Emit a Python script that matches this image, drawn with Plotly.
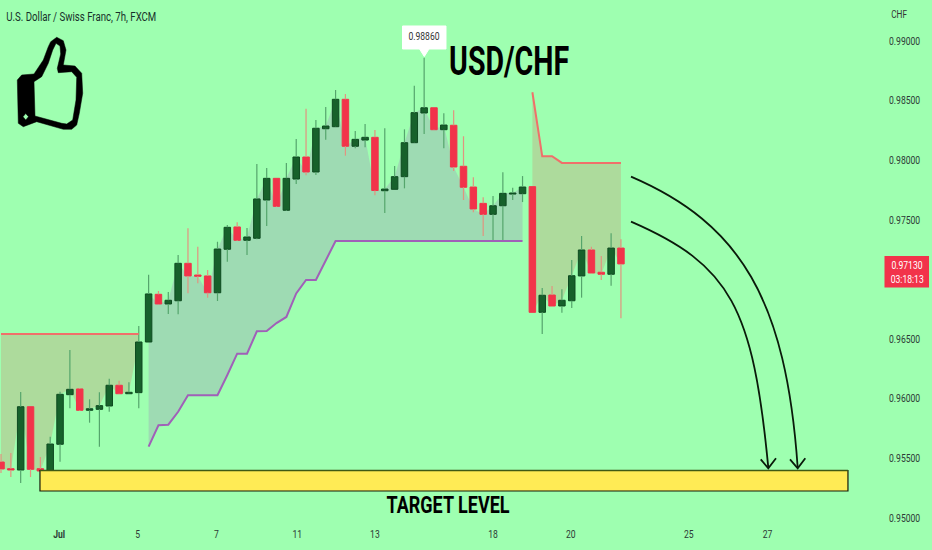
import plotly.graph_objects as go

# USD/CHF 7h candles
opens = [0.95468, 0.95412, 0.95401, 0.95932, 0.95412, 0.95395, 0.95617, 0.96033, 0.96081, 0.95902,
         0.95910, 0.95938, 0.96112, 0.96041, 0.96050, 0.96475, 0.96875, 0.96794, 0.96821, 0.97135,
         0.97037, 0.97029, 0.96888, 0.97253, 0.97440, 0.97328, 0.97345, 0.97666, 0.97848, 0.97580,
         0.97842, 0.98027, 0.97901, 0.98264, 0.98281, 0.98511, 0.98117, 0.98169, 0.98192, 0.97744,
         0.97756, 0.97862, 0.98147, 0.98396, 0.98440, 0.98256, 0.98293, 0.97949, 0.97775, 0.97638,
         0.97546, 0.97618, 0.97716, 0.97719, 0.97778, 0.96724, 0.96869, 0.96777, 0.96821, 0.97029,
         0.97247, 0.97060, 0.97043, 0.97263]
highs = [0.95535, 0.95544, 0.96055, 0.95932, 0.95510, 0.95680, 0.96058, 0.96408, 0.96089, 0.95994,
         0.96053, 0.96167, 0.96150, 0.96137, 0.96609, 0.97039, 0.96903, 0.96894, 0.97205, 0.97429,
         0.97274, 0.97079, 0.97316, 0.97456, 0.97479, 0.97431, 0.97968, 0.97935, 0.97848, 0.97977,
         0.98178, 0.98432, 0.98337, 0.98446, 0.98589, 0.98555, 0.98245, 0.98304, 0.98253, 0.98268,
         0.97951, 0.98259, 0.98625, 0.98860, 0.98440, 0.98393, 0.98419, 0.98201, 0.97857, 0.97689,
         0.97700, 0.97899, 0.97769, 0.97867, 0.97778, 0.96928, 0.96945, 0.96917, 0.97163, 0.97364,
         0.97274, 0.97196, 0.97387, 0.97336]
lows = [0.95376, 0.95342, 0.95292, 0.95342, 0.95384, 0.95393, 0.95471, 0.95919, 0.95896, 0.95798,
        0.95597, 0.95890, 0.96039, 0.96039, 0.95919, 0.96469, 0.96791, 0.96710, 0.96707, 0.96883,
        0.96967, 0.96847, 0.96819, 0.97149, 0.97322, 0.97205, 0.97336, 0.97448, 0.97607, 0.97574,
        0.97800, 0.97873, 0.97876, 0.98172, 0.98279, 0.98038, 0.98100, 0.98108, 0.97706, 0.97557,
        0.97756, 0.97764, 0.98144, 0.98220, 0.98253, 0.98100, 0.97909, 0.97666, 0.97563, 0.97364,
        0.97325, 0.97316, 0.97666, 0.97649, 0.96724, 0.96542, 0.96773, 0.96721, 0.96760, 0.96847,
        0.97050, 0.96995, 0.96947, 0.96674]
closes = [0.95410, 0.95401, 0.95932, 0.95407, 0.95393, 0.95619, 0.96036, 0.96078, 0.95902, 0.95915,
          0.95941, 0.96112, 0.96041, 0.96053, 0.96475, 0.96878, 0.96794, 0.96825, 0.97135, 0.97029,
          0.97026, 0.96888, 0.97255, 0.97437, 0.97328, 0.97356, 0.97675, 0.97848, 0.97613, 0.97848,
          0.98027, 0.97901, 0.98268, 0.98287, 0.98511, 0.98117, 0.98175, 0.98192, 0.97746, 0.97758,
          0.97862, 0.98147, 0.98399, 0.98440, 0.98256, 0.98295, 0.97943, 0.97773, 0.97591, 0.97546,
          0.97618, 0.97722, 0.97725, 0.97775, 0.96724, 0.96867, 0.96777, 0.96825, 0.97031, 0.97247,
          0.97054, 0.97043, 0.97263, 0.97130]
up_flags = [c >= o for o, c in zip(opens, closes)]

# supertrend stops: first red leg, purple leg, last red leg
red_stop_a = [0.96542] * 15
purple_stop = [0.95597, 0.95776, 0.95781, 0.95890, 0.96028, 0.96028, 0.96028, 0.96028, 0.96198, 0.96377,
               0.96377, 0.96565, 0.96567, 0.96634, 0.96685, 0.96882, 0.96995, 0.96995, 0.97159] + [0.97322] * 20
red_stop_b = [0.98570, 0.98033, 0.98033, 0.97977, 0.97977, 0.97977, 0.97977, 0.97977, 0.97977, 0.97977]

# 0.97000 sits under the last price tag on the chart, so it is left out
price_ticks = [0.99, 0.985, 0.98, 0.975, 0.965, 0.96, 0.955, 0.95]
date_ticks = [5.9, 13.9, 21.9, 30.1, 38.0, 50.0, 57.9, 69.9, 77.9, 89.5]
date_labels = ["<b>Jul</b>", "5", "7", "11", "13", "18", "20", "25", "27", "A"]

target_low, target_high = 0.95225, 0.95397
target_left, target_right = 3.96, 86.07

BG = "#9effb0"
FONT = "Roboto"
W, H = 932, 550


def px(x, y):
    # picture position to paper coordinates, for the hand drawn overlays
    return x / W, 1 - y / H


def poly(points):
    parts = ["%.5f,%.5f" % px(x, y) for x, y in points]
    return "M" + " L".join(parts) + " Z"


def curve(p0, c1, c2, p3):
    a, b, c, d = px(*p0), px(*c1), px(*c2), px(*p3)
    return "M%.5f,%.5f C%.5f,%.5f %.5f,%.5f %.5f,%.5f" % (a + b + c + d)


def wick_xy(flag):
    # scatter draws over bars, so stop the wick at the body
    xs, ys = [], []
    for i, up in enumerate(up_flags):
        if up == flag:
            top, bot = max(opens[i], closes[i]), min(opens[i], closes[i])
            xs += [i, i, None, i, i, None]
            ys += [bot, lows[i], None, top, highs[i], None]
    return xs, ys


def band_path(start, stop):
    # area between stop line and close, as a below-layer shape so candles stay on top
    xs = list(range(start, start + len(stop)))
    cl = closes[start:start + len(stop)]
    pts = list(zip(xs, stop)) + list(zip(xs, cl))[::-1]
    return "M" + " L".join("%d,%.5f" % p for p in pts) + " Z"


idx = list(range(len(opens)))
fig = go.Figure()

legs = [(0, red_stop_a, "#f0706a", "rgba(242,54,69,0.18)"),
        (15, purple_stop, "#a060b8", "rgba(160,100,190,0.23)"),
        (54, red_stop_b, "#f0706a", "rgba(242,54,69,0.18)")]

for flag, col, edge in [(True, "#17612b", "#0e4a20"), (False, "#f2334a", "#f2334a")]:
    sel = [i for i in idx if up_flags[i] == flag]
    fig.add_trace(go.Bar(x=sel,
                         y=[abs(closes[i] - opens[i]) for i in sel],
                         base=[min(closes[i], opens[i]) for i in sel],
                         width=0.66,
                         marker=dict(color=col, line=dict(color=edge, width=1))))

for flag, col in [(True, "#55a56c"), (False, "#e2937f")]:
    wx, wy = wick_xy(flag)
    fig.add_trace(go.Scatter(x=wx, y=wy, mode="lines", line=dict(color=col, width=1.2)))

for start, stop, line_col, fill_col in legs:
    xs = idx[start:start + len(stop)]
    fig.add_trace(go.Scatter(x=xs, y=stop, mode="lines", line=dict(color=line_col, width=2)))

# thumbs-up icon
thumb_outer = [(50.7, 41.7), (56.7, 37.3), (63.3, 40.7), (66, 50), (63.3, 65), (75, 66), (81.7, 73.3),
               (82.7, 93.3), (79.3, 113.3), (76.7, 125), (71.7, 129.3), (63.3, 129.3), (36.7, 121.7),
               (23.3, 126.7), (18.3, 123.3), (17.3, 80), (21.7, 75), (34, 74), (43.3, 60), (48.3, 46.7)]
thumb_inner = [(56, 43.3), (60, 46), (60.7, 54), (57.3, 68.3), (58.3, 72.7), (71.7, 71.7), (76.7, 77.3),
               (76, 100), (72.7, 120), (66.7, 124), (61.7, 123.3), (35, 116), (34, 81.7), (41.7, 76.7),
               (48.3, 63.3), (52.7, 50)]
thumb_hole = [(25.7, 113.5), (28.5, 116.7), (25.7, 120), (23, 116.7)]

paper = dict(type="path", xref="paper", yref="paper", layer="above")
ARROW = dict(color="#0a1a0a", width=1.8)
shapes = [dict(type="path", path=band_path(start, stop), fillcolor=fill_col, line=dict(width=0), layer="below")
          for start, stop, line_col, fill_col in legs]
shapes += [
    dict(type="rect", x0=target_left, x1=target_right, y0=target_low, y1=target_high,
         fillcolor="#ffeb55", line=dict(color="#141a08", width=1.2), layer="above"),
    dict(type="line", x0=target_left, x1=target_right, y0=target_high, y1=target_high,
         line=dict(color="#3f5a14", width=1.6), layer="above"),
    dict(paper, path=poly(thumb_outer) + " " + poly(thumb_inner) + " " + poly(thumb_hole),
         fillcolor="black", line=dict(color="black", width=0.5)),
    # price callout and last price tag
    dict(paper, path=poly([(402.5, 26), (446, 26), (446, 49), (429, 49), (424.3, 56.5), (419.5, 49), (402.5, 49)]),
         fillcolor="white", line=dict(color="white", width=1)),
    dict(paper, path=poly([(884.5, 256), (929, 256), (929, 287.5), (884.5, 287.5)]),
         fillcolor="#f2334a", line=dict(width=0)),
    # curved arrows
    dict(paper, path=curve((631, 176.7), (741, 224), (786, 300), (797.7, 467.7)), line=ARROW),
    dict(paper, path=curve((631, 221.7), (731, 265), (753, 307.7), (768.3, 467.7)), line=ARROW),
    dict(paper, path="M%.5f,%.5f L%.5f,%.5f L%.5f,%.5f" % (px(760.7, 459.3) + px(768.3, 468.3) + px(776, 458.3)), line=ARROW),
    dict(paper, path="M%.5f,%.5f L%.5f,%.5f L%.5f,%.5f" % (px(790, 459.3) + px(797.7, 468.3) + px(805.3, 458.3)), line=ARROW),
]


def note(x, y, text, size, color="#1c2b2b"):
    nx, ny = px(x, y)
    return dict(xref="paper", yref="paper", x=nx, y=ny, text=text, showarrow=False, xanchor="center", yanchor="middle",
                font=dict(family=FONT, size=size, color=color))


annotations = [
    note(81, 17, "U.S. Dollar / Swiss Franc, 7h, FXCM", 12.5, "#16302a"),
    note(509, 61, "<b>USD/CHF</b>", 40, "black"),
    note(448, 505, "<b>TARGET LEVEL</b>", 24, "black"),
    note(424.3, 37, "0.98860", 11, "#333333"),
    note(899, 14, "CHF", 10.5, "#333333"),
    note(906.7, 265, "0.97130", 11, "white"),
    note(906.7, 279, "03:18:13", 11, "white"),
]

fig.update_layout(
    width=W, height=H, margin=dict(l=0, r=0, t=0, b=0),
    paper_bgcolor=BG, plot_bgcolor=BG, showlegend=False, barmode="overlay",
    font=dict(family=FONT),
    hovermode=False,
    shapes=shapes, annotations=annotations,
    xaxis=dict(range=[-0.1016, 94.61], showgrid=False, zeroline=False, showline=False,
               tickmode="array", tickvals=date_ticks, ticktext=date_labels,
               ticks="inside", tickcolor="rgba(0,0,0,0)", ticklen=9, ticklabelposition="inside",
               tickfont=dict(size=11, color="#2c3a36", family=FONT)),
    yaxis=dict(range=[0.9473, 0.99344], side="right", showgrid=False, zeroline=False, showline=False,
               tickmode="array", tickvals=price_ticks, tickformat=".5f",
               ticks="inside", tickcolor="rgba(0,0,0,0)", ticklen=11, ticklabelposition="inside",
               tickfont=dict(size=11, color="#2c3a36", family=FONT)),
)

# no narrow font on the box, so squeeze the svg text to the widths on the chart
squeeze_js = """
document.body.style.margin='0';document.body.style.overflow='hidden';
var fixed={'USD/CHF':120,'TARGET LEVEL':123,'U.S. Dollar / Swiss Franc, 7h, FXCM':150};
document.querySelectorAll('.annotation-text, .xtick text, .ytick text').forEach(function(t){
  var w=t.getComputedTextLength(), s=t.textContent;
  t.setAttribute('textLength', fixed[s]||w*0.78);
  t.setAttribute('lengthAdjust','spacingAndGlyphs');
});
"""
fig.write_html("out.html", config=dict(displayModeBar=False), post_script=squeeze_js)
